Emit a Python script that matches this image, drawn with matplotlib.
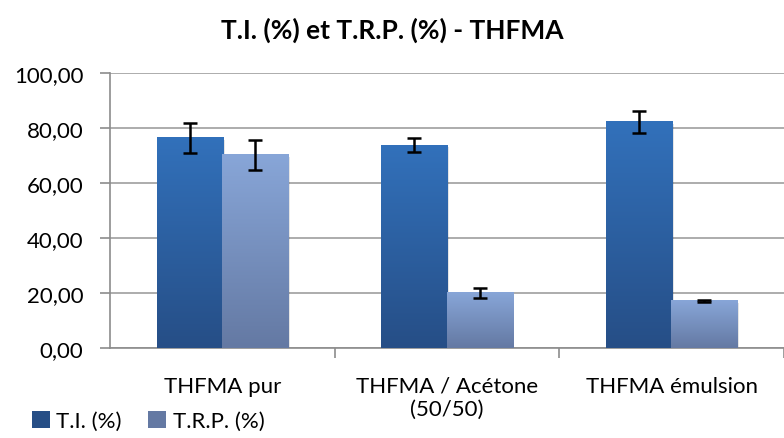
import numpy as np
import matplotlib.pyplot as plt
from matplotlib.patches import Patch
from matplotlib.colors import LinearSegmentedColormap
from matplotlib.ticker import FuncFormatter

plt.rcParams['font.family'] = ['Lato', 'DejaVu Sans']

categories = ["THFMA pur", "THFMA / Acétone\n(50/50)", "THFMA émulsion"]
ti = [76.4, 73.8, 82.2]
ti_err = [5.5, 2.6, 4.1]
trp = [70.2, 20.1, 17.1]
trp_err = [5.5, 1.9, 0.4]

series = [
    ("T.I. (%)", ti, ti_err, "#3271bb", "#264e86"),
    ("T.R.P. (%)", trp, trp_err, "#88a6d8", "#6479a3"),
]

fig = plt.figure(figsize=(7.84, 4.39), dpi=100)
ax = fig.add_axes([110 / 784, 1 - 349 / 439, 674 / 784, 275 / 439])

x = np.arange(len(categories))
w = 0.29
grad = np.linspace(1, 0, 256).reshape(-1, 1)

for k, (name, vals, errs, top, bottom) in enumerate(series):
    pos = x + (k - 0.5) * w
    bars = ax.bar(pos, vals, w, color="none", edgecolor="none", zorder=3)
    cmap = LinearSegmentedColormap.from_list(name, [bottom, top])
    for b in bars:
        x0, y0 = b.get_x(), b.get_y()
        bw, bh = b.get_width(), b.get_height()
        # soft drop shadow
        ax.add_patch(plt.Rectangle((x0 + 0.01, y0 - 0.7), bw, bh,
                                   color="#000000", alpha=0.10, lw=0, zorder=2.5))
        ax.imshow(grad, cmap=cmap, aspect="auto", zorder=3 + k * 0.1,
                  interpolation="bilinear",
                  extent=[x0 - 0.002, x0 + bw + 0.002, y0, y0 + bh])
    ax.errorbar(pos, vals, yerr=errs, fmt="none", ecolor="black", elinewidth=1.8,
                capsize=5, capthick=1.8, zorder=4)

ax.set_xlim(-0.5, -0.5 + 674 / 228)
ax.set_ylim(0, 100)
ax.set_yticks(np.arange(0, 101, 20))
ax.yaxis.set_major_formatter(FuncFormatter(lambda v, p: f"{v:.2f}".replace(".", ",")))
ax.yaxis.grid(True, color="#a6a6a6", lw=1.3, zorder=0)
ax.set_axisbelow(True)

ax.set_xticks(x)
ax.set_xticklabels(categories, fontsize=16, linespacing=1.2)
ax.set_xticks(np.arange(0.5, 3, 1), minor=True)
ax.tick_params(axis="x", which="major", length=0, pad=20)
ax.tick_params(axis="x", which="minor", length=7, color="#8c8c8c", width=1.2)
ax.tick_params(axis="y", length=7, color="#8c8c8c", width=1.2, labelsize=16, pad=12)

for s in ["top", "right"]:
    ax.spines[s].set_visible(False)
for s in ["left", "bottom"]:
    ax.spines[s].set_color("#8c8c8c")
    ax.spines[s].set_linewidth(1.2)

fig.text(0.5, 1 - 30 / 439, "T.I. (%) et T.R.P. (%) - THFMA", ha="center", va="center",
         fontsize=19, fontweight="bold")

handles = [Patch(facecolor=s[4], edgecolor="none") for s in series]
fig.legend(handles, [s[0] for s in series], loc="lower left", bbox_to_anchor=(0.015, -0.03),
           ncol=2, frameon=False, fontsize=16, handlelength=0.8, handleheight=0.85,
           handletextpad=0.3, columnspacing=1.2)

fig.savefig("out.png", dpi=100)
